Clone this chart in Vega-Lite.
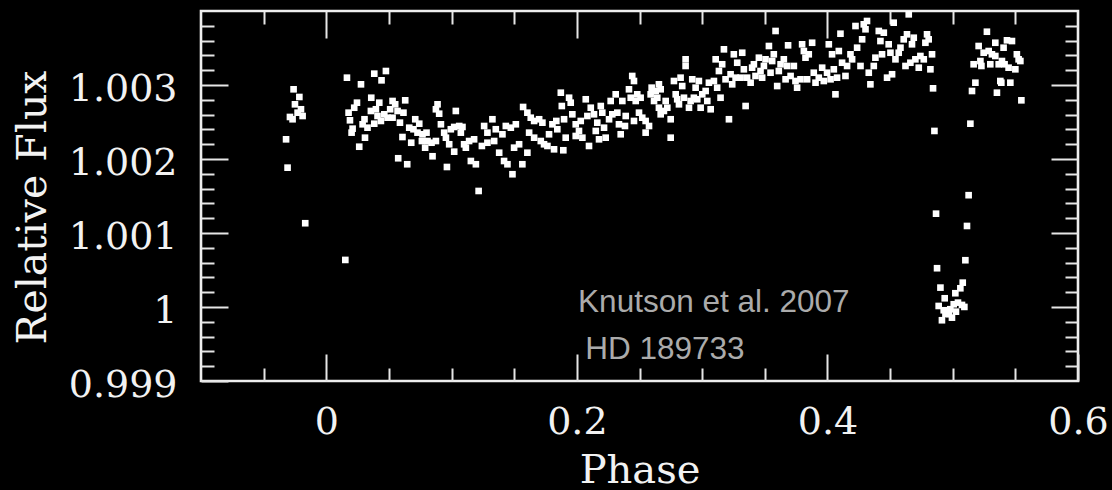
{
  "$schema": "https://vega.github.io/schema/vega-lite/v6.json",
  "width": 877,
  "height": 370,
  "autosize": {"type": "none"},
  "padding": {"left": 201, "top": 11, "right": 34, "bottom": 109},
  "background": "black",
  "config": {
    "view": {"stroke": "#eeeeee", "strokeWidth": 2.6},
    "axis": {
      "domain": false, "grid": false,
      "tickColor": "#e6e6e6", "tickWidth": 2,
      "labelColor": "#f2f2f2", "labelFont": "DejaVu Serif", "labelFontSize": 38,
      "titleColor": "#f2f2f2", "titleFont": "DejaVu Serif", "titleFontSize": 40, "titleFontWeight": "normal"
    }
  },
  "data": {"values": [
    {"phase":-0.0261,"flux":1.002942},{"phase":-0.0215,"flux":1.002838},{"phase":-0.0250,"flux":1.002739},{"phase":-0.0202,"flux":1.002672},
    {"phase":-0.0229,"flux":1.002626},{"phase":-0.0189,"flux":1.002581},{"phase":-0.0290,"flux":1.002568},{"phase":-0.0269,"flux":1.002537},
    {"phase":-0.0321,"flux":1.002266},{"phase":-0.0309,"flux":1.001883},{"phase":-0.0168,"flux":1.001132},{"phase":0.0152,"flux":1.000636},
    {"phase":0.0165,"flux":1.003099},{"phase":0.0277,"flux":1.003009},{"phase":0.0383,"flux":1.003153},{"phase":0.0441,"flux":1.003063},
    {"phase":0.0476,"flux":1.003189},{"phase":0.0359,"flux":1.002828},{"phase":0.0245,"flux":1.002761},{"phase":0.0223,"flux":1.002693},
    {"phase":0.0178,"flux":1.002626},{"phase":0.0189,"flux":1.002523},{"phase":0.0210,"flux":1.00241},{"phase":0.0202,"flux":1.002356},
    {"phase":0.0263,"flux":1.002166},{"phase":0.0309,"flux":1.002288},{"phase":0.0290,"flux":1.002469},{"phase":0.0305,"flux":1.002537},
    {"phase":0.0329,"flux":1.002423},{"phase":0.0356,"flux":1.002649},{"phase":0.0396,"flux":1.002672},{"phase":0.0423,"flux":1.002761},
    {"phase":0.0409,"flux":1.002581},{"phase":0.0383,"flux":1.002477},{"phase":0.0436,"flux":1.002514},{"phase":0.0463,"flux":1.002604},
    {"phase":0.0489,"flux":1.002558},{"phase":0.0510,"flux":1.002672},{"phase":0.0529,"flux":1.002784},{"phase":0.0550,"flux":1.002739},
    {"phase":0.0529,"flux":1.002558},{"phase":0.0569,"flux":1.002649},{"phase":0.0588,"flux":1.002491},{"phase":0.0616,"flux":1.002626},
    {"phase":0.0630,"flux":1.002793},{"phase":0.0608,"flux":1.002297},{"phase":0.0574,"flux":1.00201},{"phase":0.0646,"flux":1.001929},
    {"phase":0.0678,"flux":1.00222},{"phase":0.0662,"flux":1.002423},{"phase":0.0710,"flux":1.002537},{"phase":0.0742,"flux":1.002477},
    {"phase":0.0696,"flux":1.002402},{"phase":0.0728,"flux":1.002356},{"phase":0.0768,"flux":1.002334},{"phase":0.0800,"flux":1.002356},
    {"phase":0.0763,"flux":1.002243},{"phase":0.0808,"flux":1.002243},{"phase":0.0789,"flux":1.002153},{"phase":0.0840,"flux":1.00222},
    {"phase":0.0875,"flux":1.002243},{"phase":0.0848,"flux":1.002037},{"phase":0.0888,"flux":1.002739},{"phase":0.0875,"flux":1.002672},
    {"phase":0.0901,"flux":1.002612},{"phase":0.0915,"flux":1.002469},{"phase":0.0941,"flux":1.002356},{"phase":0.0955,"flux":1.002288},
    {"phase":0.0981,"flux":1.002199},{"phase":0.0994,"flux":1.002402},{"phase":0.1034,"flux":1.002649},{"phase":0.1021,"flux":1.002433},
    {"phase":0.1061,"flux":1.002446},{"phase":0.1087,"flux":1.002433},{"phase":0.1074,"flux":1.002356},{"phase":0.1100,"flux":1.002199},
    {"phase":0.1021,"flux":1.002099},{"phase":0.0963,"flux":1.001892},{"phase":0.1140,"flux":1.002243},{"phase":0.1180,"flux":1.002266},
    {"phase":0.1114,"flux":1.002153},{"phase":0.1154,"flux":1.001973},{"phase":0.1194,"flux":1.001929},{"phase":0.1216,"flux":1.001568},
    {"phase":0.1260,"flux":1.002446},{"phase":0.1326,"flux":1.002537},{"phase":0.1286,"flux":1.002356},{"phase":0.1353,"flux":1.002402},
    {"phase":0.1406,"flux":1.002334},{"phase":0.1433,"flux":1.002446},{"phase":0.1473,"flux":1.002423},{"phase":0.1513,"flux":1.002469},
    {"phase":0.1242,"flux":1.002176},{"phase":0.1286,"flux":1.00222},{"phase":0.1340,"flux":1.002243},{"phase":0.1380,"flux":1.002085},
    {"phase":0.1419,"flux":1.001973},{"phase":0.1446,"flux":1.001929},{"phase":0.1486,"flux":1.001794},{"phase":0.1499,"flux":1.002153},
    {"phase":0.1539,"flux":1.002199},{"phase":0.1565,"flux":1.001929},{"phase":0.1605,"flux":1.002085},{"phase":0.1571,"flux":1.002703},
    {"phase":0.1605,"flux":1.002626},{"phase":0.1632,"flux":1.002558},{"phase":0.1659,"flux":1.002514},{"phase":0.1699,"flux":1.002537},
    {"phase":0.1725,"flux":1.002491},{"phase":0.1619,"flux":1.002356},{"phase":0.1659,"flux":1.002288},{"phase":0.1712,"flux":1.002243},
    {"phase":0.1738,"flux":1.002199},{"phase":0.1778,"flux":1.002334},{"phase":0.1765,"flux":1.002176},{"phase":0.1818,"flux":1.002131},
    {"phase":0.1805,"flux":1.002469},{"phase":0.1836,"flux":1.002514},{"phase":0.1844,"flux":1.002402},{"phase":0.1872,"flux":1.002896},
    {"phase":0.1880,"flux":1.002716},{"phase":0.1898,"flux":1.002537},{"phase":0.1911,"flux":1.002288},{"phase":0.1892,"flux":1.002118},
    {"phase":0.1938,"flux":1.002828},{"phase":0.1951,"flux":1.002761},{"phase":0.1964,"flux":1.002604},{"phase":0.1991,"flux":1.002469},
    {"phase":0.2017,"flux":1.002379},{"phase":0.1991,"flux":1.002311},{"phase":0.2044,"flux":1.002288},{"phase":0.2031,"flux":1.002514},
    {"phase":0.2071,"flux":1.002807},{"phase":0.2084,"flux":1.002581},{"phase":0.2111,"flux":1.002693},{"phase":0.2137,"flux":1.002604},
    {"phase":0.2097,"flux":1.002176},{"phase":0.2151,"flux":1.002379},{"phase":0.2163,"flux":1.002491},{"phase":0.2191,"flux":1.002716},
    {"phase":0.2203,"flux":1.002626},{"phase":0.2217,"flux":1.002423},{"phase":0.2230,"flux":1.002288},{"phase":0.2177,"flux":1.002266},
    {"phase":0.2257,"flux":1.002537},{"phase":0.2270,"flux":1.002784},{"phase":0.2283,"flux":1.002604},{"phase":0.2310,"flux":1.002874},
    {"phase":0.2323,"flux":1.002626},{"phase":0.2336,"flux":1.002469},{"phase":0.2350,"flux":1.002334},{"phase":0.2363,"flux":1.002784},
    {"phase":0.2390,"flux":1.002581},{"phase":0.2384,"flux":1.002446},{"phase":0.2416,"flux":1.002942},{"phase":0.2442,"flux":1.003122},
    {"phase":0.2456,"flux":1.003054},{"phase":0.2430,"flux":1.002828},{"phase":0.2470,"flux":1.002784},{"phase":0.2482,"flux":1.002874},
    {"phase":0.2456,"flux":1.002514},{"phase":0.2496,"flux":1.002626},{"phase":0.2509,"flux":1.002828},{"phase":0.2522,"flux":1.002558},
    {"phase":0.2549,"flux":1.002514},{"phase":0.2576,"flux":1.002446},{"phase":0.2549,"flux":1.002356},{"phase":0.2597,"flux":1.002964},
    {"phase":0.2589,"flux":1.002874},{"phase":0.2616,"flux":1.002784},{"phase":0.2629,"flux":1.002919},{"phase":0.2655,"flux":1.003009},
    {"phase":0.2669,"flux":1.002942},{"phase":0.2642,"flux":1.002828},{"phase":0.2655,"flux":1.002693},{"phase":0.2669,"flux":1.002604},
    {"phase":0.2695,"flux":1.002649},{"phase":0.2722,"flux":1.002693},{"phase":0.2709,"flux":1.002784},{"phase":0.2749,"flux":1.002537},
    {"phase":0.2749,"flux":1.002288},{"phase":0.2775,"flux":1.003054},{"phase":0.2789,"flux":1.002874},{"phase":0.2815,"flux":1.002739},
    {"phase":0.2801,"flux":1.002807},{"phase":0.2828,"flux":1.003099},{"phase":0.2841,"flux":1.002986},{"phase":0.2855,"flux":1.002828},
    {"phase":0.2868,"flux":1.003347},{"phase":0.2868,"flux":1.003257},{"phase":0.2895,"flux":1.002693},{"phase":0.2908,"flux":1.002784},
    {"phase":0.2921,"flux":1.003077},{"phase":0.2934,"flux":1.002828},{"phase":0.2948,"flux":1.002964},{"phase":0.2974,"flux":1.003054},
    {"phase":0.2961,"flux":1.002807},{"phase":0.2988,"flux":1.002693},{"phase":0.3001,"flux":1.002874},{"phase":0.3028,"flux":1.002919},
    {"phase":0.3041,"flux":1.002784},{"phase":0.3054,"flux":1.003031},{"phase":0.3068,"flux":1.002672},{"phase":0.3094,"flux":1.003054},
    {"phase":0.3108,"flux":1.003347},{"phase":0.3120,"flux":1.002964},{"phase":0.3134,"flux":1.003189},{"phase":0.3147,"flux":1.002828},
    {"phase":0.3160,"flux":1.00328},{"phase":0.3174,"flux":1.003482},{"phase":0.3187,"flux":1.003077},{"phase":0.3214,"flux":1.002537},
    {"phase":0.3227,"flux":1.003145},{"phase":0.3240,"flux":1.003009},{"phase":0.3253,"flux":1.003415},{"phase":0.3280,"flux":1.003301},
    {"phase":0.3267,"flux":1.003099},{"phase":0.3307,"flux":1.003099},{"phase":0.3320,"flux":1.003436},{"phase":0.3333,"flux":1.003212},
    {"phase":0.3347,"flux":1.002716},{"phase":0.3359,"flux":1.003099},{"phase":0.3387,"flux":1.003031},{"phase":0.3399,"flux":1.003234},
    {"phase":0.3413,"flux":1.00328},{"phase":0.3426,"flux":1.003122},{"phase":0.3453,"flux":1.003369},{"phase":0.3466,"flux":1.003189},
    {"phase":0.3493,"flux":1.003257},{"phase":0.3479,"flux":1.003099},{"phase":0.3506,"flux":1.003347},{"phase":0.3533,"flux":1.003527},
    {"phase":0.3546,"flux":1.003166},{"phase":0.3559,"flux":1.003324},{"phase":0.3572,"flux":1.003415},{"phase":0.3586,"flux":1.00373},
    {"phase":0.3599,"flux":1.002986},{"phase":0.3612,"flux":1.003189},{"phase":0.3626,"flux":1.00328},{"phase":0.3652,"flux":1.003347},
    {"phase":0.3666,"flux":1.003077},{"phase":0.3678,"flux":1.003257},{"phase":0.3686,"flux":1.003536},{"phase":0.3706,"flux":1.003122},
    {"phase":0.3732,"flux":1.003257},{"phase":0.3745,"flux":1.003054},{"phase":0.3758,"flux":1.002964},{"phase":0.3785,"flux":1.003077},
    {"phase":0.3798,"flux":1.00355},{"phase":0.3812,"flux":1.003459},{"phase":0.3825,"flux":1.003369},{"phase":0.3838,"flux":1.003077},
    {"phase":0.3878,"flux":1.003571},{"phase":0.3851,"flux":1.003415},{"phase":0.3891,"flux":1.003166},{"phase":0.3905,"flux":1.003031},
    {"phase":0.3931,"flux":1.003099},{"phase":0.3958,"flux":1.003234},{"phase":0.3971,"flux":1.003054},{"phase":0.3997,"flux":1.003166},
    {"phase":0.4011,"flux":1.00355},{"phase":0.4025,"flux":1.003077},{"phase":0.4037,"flux":1.003415},{"phase":0.4051,"flux":1.003212},
    {"phase":0.4064,"flux":1.002874},{"phase":0.4077,"flux":1.003099},{"phase":0.4091,"flux":1.003459},{"phase":0.4104,"flux":1.003693},
    {"phase":0.4117,"flux":1.003301},{"phase":0.4144,"flux":1.003122},{"phase":0.4157,"flux":1.003257},{"phase":0.4184,"flux":1.003415},
    {"phase":0.4197,"flux":1.003347},{"phase":0.4224,"flux":1.003797},{"phase":0.4237,"flux":1.003504},{"phase":0.4264,"flux":1.003257},
    {"phase":0.4277,"flux":1.003617},{"phase":0.4290,"flux":1.00382},{"phase":0.4304,"flux":1.003753},{"phase":0.4316,"flux":1.003865},
    {"phase":0.4343,"flux":1.003009},{"phase":0.4330,"flux":1.003166},{"phase":0.4370,"flux":1.003257},{"phase":0.4383,"flux":1.003369},
    {"phase":0.4410,"flux":1.00373},{"phase":0.4423,"flux":1.003594},{"phase":0.4436,"flux":1.003415},{"phase":0.4450,"flux":1.003707},
    {"phase":0.4476,"flux":1.003099},{"phase":0.4489,"flux":1.00355},{"phase":0.4516,"flux":1.003145},{"phase":0.4503,"flux":1.003436},
    {"phase":0.4529,"flux":1.003842},{"phase":0.4543,"flux":1.003347},{"phase":0.4569,"flux":1.003436},{"phase":0.4583,"flux":1.003504},
    {"phase":0.4609,"flux":1.003617},{"phase":0.4623,"flux":1.003257},{"phase":0.4635,"flux":1.003685},{"phase":0.4649,"flux":1.003955},
    {"phase":0.4662,"flux":1.003301},{"phase":0.4675,"flux":1.00355},{"phase":0.4689,"flux":1.003639},{"phase":0.4702,"flux":1.003347},
    {"phase":0.4729,"flux":1.003234},{"phase":0.4742,"flux":1.003392},{"phase":0.4769,"flux":1.003347},{"phase":0.4782,"flux":1.003571},
    {"phase":0.4795,"flux":1.003685},{"phase":0.4808,"flux":1.003617},{"phase":0.4822,"flux":1.003212},{"phase":0.4835,"flux":1.003415},
    {"phase":0.4843,"flux":1.002955},{"phase":0.4854,"flux":1.002379},{"phase":0.4867,"flux":1.001261},{"phase":0.4875,"flux":1.000524},
    {"phase":0.4902,"flux":1.000262},{"phase":0.4888,"flux":1.000014},{"phase":0.4914,"flux":0.999821},{"phase":0.4928,"flux":0.999956},
    {"phase":0.4936,"flux":1.000118},{"phase":0.4942,"flux":0.99991},{"phase":0.4954,"flux":0.999937},{"phase":0.4968,"flux":0.999902},
    {"phase":0.4981,"flux":0.99997},{"phase":0.4994,"flux":0.999856},{"phase":0.5008,"flux":1.000037},{"phase":0.5021,"flux":1.000186},
    {"phase":0.5026,"flux":0.999937},{"phase":0.5042,"flux":1.000059},{"phase":0.5061,"flux":1.000253},{"phase":0.5074,"flux":1.000028},
    {"phase":0.5080,"flux":1.000329},{"phase":0.5093,"flux":1.000001},{"phase":0.5101,"flux":1.000632},{"phase":0.5114,"flux":1.001095},
    {"phase":0.5127,"flux":1.001511},{"phase":0.5141,"flux":1.002477},{"phase":0.5154,"flux":1.002919},{"phase":0.5181,"flux":1.003031},
    {"phase":0.5167,"flux":1.00328},{"phase":0.5207,"flux":1.003527},{"phase":0.5221,"flux":1.003324},{"phase":0.5229,"flux":1.003257},
    {"phase":0.5247,"flux":1.003436},{"phase":0.5273,"flux":1.00372},{"phase":0.5287,"flux":1.003459},{"phase":0.5300,"flux":1.00328},
    {"phase":0.5313,"flux":1.003415},{"phase":0.5340,"flux":1.003571},{"phase":0.5340,"flux":1.003392},{"phase":0.5353,"flux":1.002896},
    {"phase":0.5367,"flux":1.00328},{"phase":0.5380,"flux":1.003054},{"phase":0.5393,"flux":1.003324},{"phase":0.5406,"flux":1.003504},
    {"phase":0.5414,"flux":1.00328},{"phase":0.5433,"flux":1.003604},{"phase":0.5446,"flux":1.003234},{"phase":0.5460,"flux":1.003031},
    {"phase":0.5473,"flux":1.003594},{"phase":0.5500,"flux":1.003212},{"phase":0.5512,"flux":1.003415},{"phase":0.5526,"flux":1.003347},
    {"phase":0.5540,"flux":1.003324},{"phase":0.5548,"flux":1.002793},{"phase":0.5388,"flux":1.003031}
  ]},
  "resolve": {"axis": {"x": "independent", "y": "independent"}},
  "layer": [
    {
      "mark": {"type": "square", "size": 44, "color": "white", "opacity": 1, "filled": true},
      "encoding": {
        "x": {"field": "phase", "type": "quantitative", "scale": {"domain": [-0.1, 0.6], "nice": false, "zero": false},
              "axis": {"orient": "bottom", "values": [0, 0.2, 0.4, 0.6], "tickSize": -27, "labelPadding": 49, "format": "~g",
                       "labelFlush": false, "labelOverlap": false, "labelBound": false,
                       "title": "Phase", "titleBaseline": "alphabetic", "titleY": 101}},
        "y": {"field": "flux", "type": "quantitative", "scale": {"domain": [0.999, 1.004], "nice": false, "zero": false},
              "axis": {"orient": "left", "values": [0.999, 1, 1.001, 1.002, 1.003], "tickSize": -27, "labelPadding": 51, "labelOffset": 4, "format": "~g",
                       "labelOverlap": false, "labelBound": false,
                       "title": "Relative Flux", "titleFontSize": 41, "titleBaseline": "alphabetic", "titleX": -156, "titleY": 196, "titleAngle": -90}}
      }
    },
    {
      "mark": {"type": "point", "opacity": 0},
      "encoding": {
        "x": {"field": "phase", "type": "quantitative", "scale": {"domain": [-0.1, 0.6], "nice": false, "zero": false},
              "axis": {"orient": "bottom", "values": [-0.05, 0.05, 0.1, 0.15, 0.25, 0.3, 0.35, 0.45, 0.5, 0.55], "labels": false, "tickSize": -13, "title": null}},
        "y": {"field": "flux", "type": "quantitative", "scale": {"domain": [0.999, 1.004], "nice": false, "zero": false},
              "axis": {"orient": "left", "values": [0.9992, 0.9994, 0.9996, 0.9998, 1.0002, 1.0004, 1.0006, 1.0008, 1.0012, 1.0014, 1.0016, 1.0018, 1.0022, 1.0024, 1.0026, 1.0028, 1.0032, 1.0034, 1.0036, 1.0038], "labels": false, "tickSize": -13, "title": null}}
      }
    },
    {
      "mark": {"type": "point", "opacity": 0},
      "encoding": {
        "x": {"field": "phase", "type": "quantitative", "scale": {"domain": [-0.1, 0.6], "nice": false, "zero": false},
              "axis": {"orient": "top", "values": [0, 0.2, 0.4], "labels": false, "tickSize": -27, "title": null}},
        "y": {"field": "flux", "type": "quantitative", "scale": {"domain": [0.999, 1.004], "nice": false, "zero": false},
              "axis": {"orient": "right", "values": [1, 1.001, 1.002, 1.003], "labels": false, "tickSize": -27, "title": null}}
      }
    },
    {
      "mark": {"type": "point", "opacity": 0},
      "encoding": {
        "x": {"field": "phase", "type": "quantitative", "scale": {"domain": [-0.1, 0.6], "nice": false, "zero": false},
              "axis": {"orient": "top", "values": [-0.05, 0.05, 0.1, 0.15, 0.25, 0.3, 0.35, 0.45, 0.5, 0.55], "labels": false, "tickSize": -13, "title": null}},
        "y": {"field": "flux", "type": "quantitative", "scale": {"domain": [0.999, 1.004], "nice": false, "zero": false},
              "axis": {"orient": "right", "values": [0.9992, 0.9994, 0.9996, 0.9998, 1.0002, 1.0004, 1.0006, 1.0008, 1.0012, 1.0014, 1.0016, 1.0018, 1.0022, 1.0024, 1.0026, 1.0028, 1.0032, 1.0034, 1.0036, 1.0038], "labels": false, "tickSize": -13, "title": null}}
      }
    },
    {
      "data": {"values": [
        {"label": "Knutson et al. 2007", "phase": 0.2010, "flux": 0.999933},
        {"label": "HD 189733", "phase": 0.2067, "flux": 0.999298}
      ]},
      "mark": {"type": "text", "font": "Liberation Sans", "fontSize": 31.5, "color": "#ababab", "align": "left", "baseline": "alphabetic"},
      "encoding": {
        "text": {"field": "label", "type": "nominal"},
        "x": {"field": "phase", "type": "quantitative", "scale": {"domain": [-0.1, 0.6], "nice": false, "zero": false},
              "axis": {"orient": "bottom", "labels": false, "ticks": false, "title": null}},
        "y": {"field": "flux", "type": "quantitative", "scale": {"domain": [0.999, 1.004], "nice": false, "zero": false},
              "axis": {"orient": "left", "labels": false, "ticks": false, "title": null}}
      }
    }
  ]
}
